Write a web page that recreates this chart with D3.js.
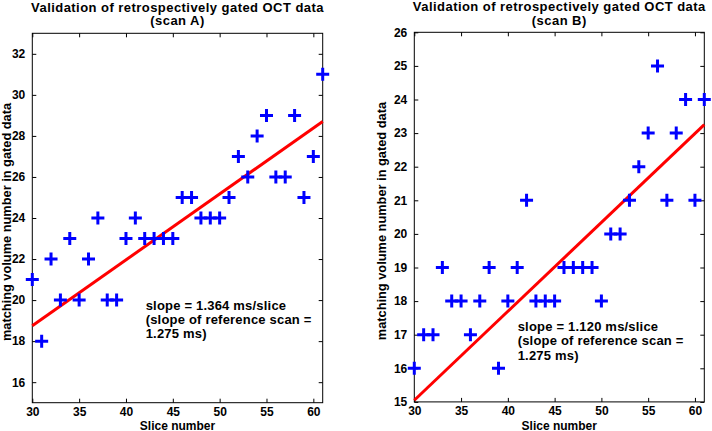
<!DOCTYPE html>
<html><head><meta charset="utf-8">
<script src="https://cdn.jsdelivr.net/npm/d3@7"></script>
<style>html,body{margin:0;padding:0;background:#fff;}svg{display:block;font-family:"Liberation Sans",Arial,sans-serif;font-weight:bold;}</style>
</head><body>
<svg id="chart" width="712" height="431"></svg>
<script>
// ---- data ----
const slicesA = [30,31,32,33,34,35,36,37,38,39,40,41,42,43,44,45,46,47,48,49,50,51,52,53,54,55,56,57,58,59,60,61];
const volumesA = [21,18,22,20,23,20,22,24,20,20,23,24,23,23,23,23,25,25,24,24,24,25,27,26,28,29,26,26,29,25,27,31];
const fitXA = [30, 61];
const fitYA = [18.75, 28.7];
const yTicksA = [16,18,20,22,24,26,28,30,32];
const slicesB = [30,31,32,33,34,35,36,37,38,39,40,41,42,43,44,45,46,47,48,49,50,51,52,53,54,55,56,57,58,59,60,61];
const volumesB = [16,17,17,19,18,18,17,18,19,16,18,19,21,18,18,18,19,19,19,19,18,20,20,21,22,23,25,21,23,24,21,24];
const fitXB = [30, 61];
const fitYB = [15.05, 23.25];
const yTicksB = [15,16,17,18,19,20,21,22,23,24,25,26];
const xTicks = [30,35,40,45,50,55,60];
const titleLine1 = "Validation of retrospectively gated OCT data";
const titleA = "(scan A)";
const titleB = "(scan B)";
const xLabel = "Slice number";
const yLabel = "matching volume number in gated data";
const noteA = ["slope = 1.364 ms/slice", "(slope of reference scan =", "1.275 ms)"];
const noteB = ["slope = 1.120 ms/slice", "(slope of reference scan =", "1.275 ms)"];

const svg = d3.select("#chart");

function panel(o) {
  const x = d3.scaleLinear().domain([30, 61]).range([o.left, o.right]);
  const y = d3.scaleLinear().domain(o.yDomain).range([o.bottom, o.top]);
  const g = svg.append("g");
  const tl = 4;
  // box
  g.append("rect").attr("x", o.left).attr("y", o.top)
    .attr("width", o.right - o.left).attr("height", o.bottom - o.top)
    .attr("fill", "none").attr("stroke", "#000").attr("stroke-width", 1);
  // axes (ticks inward)
  const ax = (axisFn, scale, ticks, transform, pad) => {
    const a = g.append("g").attr("transform", transform)
      .call(axisFn(scale).tickValues(ticks).tickSizeInner(-tl).tickSizeOuter(0).tickPadding(pad || 0));
    a.select(".domain").remove();
    a.selectAll("line").attr("stroke", "#000");
    a.selectAll("text").attr("font-size", 12).attr("font-weight", "bold")
      .attr("font-family", '"Liberation Sans",Arial,sans-serif').attr("fill", "#000");
    if (!pad) a.selectAll("text").remove();
    return a;
  };
  ax(d3.axisBottom, x, xTicks, `translate(0,${o.bottom})`, 4.5);
  ax(d3.axisTop, x, xTicks, `translate(0,${o.top})`, 0);
  ax(d3.axisLeft, y, o.yTicks, `translate(${o.left},0)`, 7);
  ax(d3.axisRight, y, o.yTicks, `translate(${o.right},0)`, 0);

  // fit line
  g.append("line")
    .attr("x1", x(o.fitX[0])).attr("y1", y(o.fitY[0]))
    .attr("x2", x(o.fitX[1])).attr("y2", y(o.fitY[1]))
    .attr("stroke", "#ff0000").attr("stroke-width", 3);
  // markers
  const s = 6.5;
  g.append("g").selectAll("path").data(o.xs.map((d, i) => [d, o.ys[i]])).join("path")
    .attr("d", d => {
      const cx = x(d[0]), cy = y(d[1]);
      return `M${cx - s},${cy}H${cx + s}M${cx},${cy - s}V${cy + s}`;
    })
    .attr("stroke", "#0000ff").attr("stroke-width", 3).attr("fill", "none");

  // note
  const nt = g.append("text").attr("x", x(o.noteX)).attr("y", y(o.noteY))
    .attr("font-size", 13).attr("letter-spacing", 0.2).attr("fill", "#000");
  o.note.forEach((t, i) => nt.append("tspan").attr("x", x(o.noteX)).attr("dy", i === 0 ? "0.35em" : 14.3).text(t));

  // titles
  const cx = (o.left + o.right) / 2;
  g.append("text").attr("x", cx).attr("y", o.titleY).attr("text-anchor", "middle")
    .attr("font-size", 13).attr("letter-spacing", 0.45).text(titleLine1);
  g.append("text").attr("x", cx).attr("y", o.titleY + 13.5).attr("text-anchor", "middle")
    .attr("font-size", 13).attr("letter-spacing", 0.45).text(o.title2);
  // x label
  g.append("text").attr("x", cx).attr("y", 429.5).attr("text-anchor", "middle")
    .attr("font-size", 12).text(xLabel);
  // y label
  g.append("text").attr("transform", `translate(${o.ylabX},${(o.top + o.bottom) / 2 + 4}) rotate(-90)`)
    .attr("text-anchor", "middle").attr("dy", "0.35em").attr("font-size", 12.8).text(yLabel);
}

panel({left: 32.3, right: 322.7, top: 33.3, bottom: 402.7, yDomain: [15, 33], yTicks: yTicksA,
  xs: slicesA, ys: volumesA, fitX: fitXA, fitY: fitYA, note: noteA, noteX: 42.1, noteY: 19.76,
  title2: titleA, titleY: 11.8, ylabX: 6.7});
panel({left: 414.3, right: 704.3, top: 32.3, bottom: 401.9, yDomain: [15, 26], yTicks: yTicksB,
  xs: slicesB, ys: volumesB, fitX: fitXB, fitY: fitYB, note: noteB, noteX: 41.05, noteY: 17.24,
  title2: titleB, titleY: 11, ylabX: 381.7});
</script>
</body></html>
